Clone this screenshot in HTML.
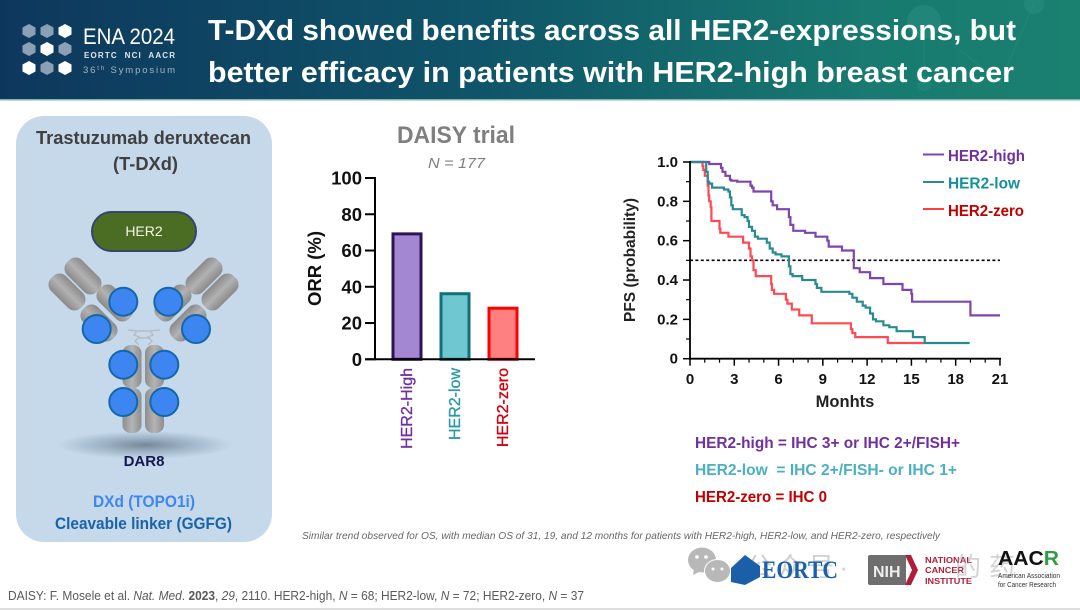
<!DOCTYPE html>
<html lang="en">
<head>
<meta charset="utf-8">
<title>T-DXd efficacy by HER2 expression</title>
<style>
html,body{margin:0;padding:0;background:#fff;width:1080px;height:610px;overflow:hidden}
svg{display:block}
text{font-family:"Liberation Sans","Noto Sans CJK SC",sans-serif}
</style>
</head>
<body>
<svg id="slide" xmlns="http://www.w3.org/2000/svg" width="1080" height="610" viewBox="0 0 1080 610">
<defs>
<linearGradient id="hdr" x1="0" x2="1" y1="0" y2="0"><stop offset="0" stop-color="#0e375d"/><stop offset=".45" stop-color="#0f5569"/><stop offset=".8" stop-color="#187a70"/><stop offset="1" stop-color="#1a8070"/></linearGradient>
<linearGradient id="gr" x1="0" x2="0" y1="0" y2="1"><stop offset="0" stop-color="#8a8a8a"/><stop offset=".5" stop-color="#b2b2b2"/><stop offset="1" stop-color="#8a8a8a"/></linearGradient>
<linearGradient id="grv" x1="0" x2="1" y1="0" y2="0"><stop offset="0" stop-color="#8e8e8e"/><stop offset=".5" stop-color="#b4b4b4"/><stop offset="1" stop-color="#8e8e8e"/></linearGradient>
<radialGradient id="shadow"><stop offset="0" stop-color="#76899b"/><stop offset=".5" stop-color="#9fb4c6"/><stop offset="1" stop-color="#c5d9eb"/></radialGradient>
</defs>

<g>
<rect width="1080" height="99" fill="url(#hdr)"/>
<rect y="99" width="1080" height="1.5" fill="#7fb5b0"/>
<circle cx="924" cy="22" r="17" fill="#2c9384" opacity=".45"/>
<circle cx="1034" cy="4" r="10" fill="#2c9384" opacity=".45"/>
<circle cx="924" cy="84" r="7" fill="#2c9384" opacity=".35"/>
<path d="M924 22V84M1034 4L1000 82L960 50" stroke="#2c9384" stroke-width="1" fill="none" opacity=".4"/>
<g>
<polygon points="29,24 35.500,27.500 35.500,34.500 29,38 22.500,34.500 22.500,27.500" fill="#8ba0b5"/>
<polygon points="47,24 53.500,27.500 53.500,34.500 47,38 40.500,34.500 40.500,27.500" fill="#8ba0b5"/>
<polygon points="65,24 71.500,27.500 71.500,34.500 65,38 58.500,34.500 58.500,27.500" fill="#fff"/>
<polygon points="29,42 35.500,45.500 35.500,52.500 29,56 22.500,52.500 22.500,45.500" fill="#8ba0b5"/>
<polygon points="47,42 53.500,45.500 53.500,52.500 47,56 40.500,52.500 40.500,45.500" fill="#fff"/>
<polygon points="65,42 71.500,45.500 71.500,52.500 65,56 58.500,52.500 58.500,45.500" fill="#8ba0b5"/>
<polygon points="29,61 35.500,64.500 35.500,71.500 29,75 22.500,71.500 22.500,64.500" fill="#fff"/>
<polygon points="47,61 53.500,64.500 53.500,71.500 47,75 40.500,71.500 40.500,64.500" fill="#8ba0b5"/>
<polygon points="65,61 71.500,64.500 71.500,71.500 65,75 58.500,71.500 58.500,64.500" fill="#fff"/>
</g>
<text x="83" y="44" font-size="22" fill="#fff" textLength="92" lengthAdjust="spacingAndGlyphs">ENA 2024</text>
<text x="84" y="58" font-size="8" font-weight="bold" fill="#dfe6ec" textLength="91" xml:space="preserve">EORTC  NCI  AACR</text>
<text x="83" y="73" font-size="9.500" fill="#a5b4c2" textLength="92">36<tspan font-size="6" dy="-3">th</tspan><tspan dy="3"> Symposium</tspan></text>
<text x="208" y="40" font-size="29" font-weight="bold" fill="#fff" textLength="808" lengthAdjust="spacingAndGlyphs">T-DXd showed benefits across all HER2-expressions, but</text>
<text x="208" y="82" font-size="29" font-weight="bold" fill="#fff" textLength="806" lengthAdjust="spacingAndGlyphs">better efficacy in patients with HER2-high breast cancer</text>
</g>

<g>
<rect x="16" y="116" width="256" height="426" rx="28" fill="#c5d9eb"/>
<text x="36" y="144" font-size="18" font-weight="bold" fill="#404040" textLength="215" lengthAdjust="spacingAndGlyphs">Trastuzumab deruxtecan</text>
<text x="113" y="170" font-size="18" font-weight="bold" fill="#404040" textLength="65" lengthAdjust="spacingAndGlyphs">(T-DXd)</text>
<rect x="92" y="212" width="104" height="39" rx="19.500" fill="#4a6d23" stroke="#34466a" stroke-width="2"/>
<text x="144" y="236" font-size="14" fill="#f3f5ea" text-anchor="middle">HER2</text>
<ellipse cx="145" cy="445" rx="88" ry="14" fill="url(#shadow)"/>
<g>
<g fill="url(#gr)">
<rect x="62" y="265.500" width="42" height="21" rx="9" transform="rotate(45 83 276)"/>
<rect x="46" y="281.500" width="42" height="21" rx="9" transform="rotate(45 67 292)"/>
<rect x="94" y="292.500" width="42" height="21" rx="9" transform="rotate(45 115 303)"/>
<rect x="78" y="312.500" width="42" height="21" rx="9" transform="rotate(45 99 323)"/>
<rect x="183" y="265.500" width="42" height="21" rx="9" transform="rotate(-45 204 276)"/>
<rect x="199" y="281.500" width="42" height="21" rx="9" transform="rotate(-45 220 292)"/>
<rect x="152" y="292.500" width="42" height="21" rx="9" transform="rotate(-45 173 303)"/>
<rect x="167" y="312.500" width="42" height="21" rx="9" transform="rotate(-45 188 323)"/>
</g>
<g fill="url(#grv)">
<rect x="122.500" y="345" width="19" height="43" rx="8"/>
<rect x="145" y="345" width="19" height="43" rx="8"/>
<rect x="122.500" y="388" width="19" height="45" rx="8"/>
<rect x="145" y="388" width="19" height="45" rx="8"/>
</g>
<path d="M128 330L137 331L134 335L139 337L135 341L139 345M160 330L150 331L153 335L148 337L152 341L148 345M138 331H150M138 338H150" stroke="#b5b9bc" stroke-width="1.200" fill="none"/>
<g fill="#3d85f0" stroke="#1568a8" stroke-width="2">
<circle cx="123.300" cy="301.700" r="14"/>
<circle cx="96.700" cy="329" r="14"/>
<circle cx="168.300" cy="301.700" r="14"/>
<circle cx="196" cy="329" r="14"/>
<circle cx="123.300" cy="364.700" r="14"/>
<circle cx="164.300" cy="364.700" r="14"/>
<circle cx="123.300" cy="402" r="14"/>
<circle cx="164.300" cy="402" r="14"/>
</g>
</g>
<text x="144" y="466" font-size="15" font-weight="bold" fill="#17174f" text-anchor="middle">DAR8</text>
<text x="93" y="507" font-size="16.500" font-weight="bold" fill="#3f86f0" textLength="102" lengthAdjust="spacingAndGlyphs">DXd (TOPO1i)</text>
<text x="55" y="529" font-size="16.500" font-weight="bold" fill="#1a63a8" textLength="177" lengthAdjust="spacingAndGlyphs">Cleavable linker (GGFG)</text>
</g>

<g id="bar-chart">
<text x="397" y="143" font-size="24" font-weight="bold" fill="#7f7f7f" textLength="118" lengthAdjust="spacingAndGlyphs">DAISY trial</text>
<text x="428" y="168" font-size="15" font-style="italic" fill="#7f7f7f" textLength="57" lengthAdjust="spacingAndGlyphs">N = 177</text>
<text transform="translate(321 268.500) rotate(-90)" font-size="18.500" font-weight="bold" fill="#111" text-anchor="middle">ORR (%)</text>
</g>

<g id="km-chart">
<text transform="translate(635 260) rotate(-90)" font-size="15.500" font-weight="bold" fill="#222" text-anchor="middle">PFS (probability)</text>
<text x="845" y="407" font-size="16.500" font-weight="bold" fill="#222" text-anchor="middle">Monhts</text>
</g>

<g>
<line x1="923" x2="944" y1="154.500" y2="154.500" stroke="#7d45ad" stroke-width="2"/>
<text x="948" y="161" font-size="15.500" font-weight="bold" fill="#7030a0" textLength="77" lengthAdjust="spacingAndGlyphs">HER2-high</text>
<line x1="923" x2="944" y1="182" y2="182" stroke="#2a8a92" stroke-width="2"/>
<text x="948" y="188.500" font-size="15.500" font-weight="bold" fill="#15909a" textLength="72" lengthAdjust="spacingAndGlyphs">HER2-low</text>
<line x1="923" x2="944" y1="209" y2="209" stroke="#ff4040" stroke-width="2"/>
<text x="948" y="216" font-size="15.500" font-weight="bold" fill="#c00000" textLength="76" lengthAdjust="spacingAndGlyphs">HER2-zero</text>
</g>

<g>
<text x="695" y="448" font-size="16" font-weight="bold" fill="#7030a0" textLength="265" lengthAdjust="spacingAndGlyphs">HER2-high = IHC 3+ or IHC 2+/FISH+</text>
<text x="695" y="475" font-size="16" font-weight="bold" fill="#4bb0c0" textLength="262" lengthAdjust="spacingAndGlyphs" xml:space="preserve">HER2-low  = IHC 2+/FISH- or IHC 1+</text>
<text x="695" y="502" font-size="16" font-weight="bold" fill="#c00000" textLength="132" lengthAdjust="spacingAndGlyphs">HER2-zero = IHC 0</text>
</g>

<text x="302" y="539" font-size="10.500" font-style="italic" fill="#666" textLength="638" lengthAdjust="spacingAndGlyphs">Similar trend observed for OS, with median OS of 31, 19, and 12 months for patients with HER2-high, HER2-low, and HER2-zero, respectively</text>
<text x="8" y="600" font-size="13" fill="#595959" textLength="576" lengthAdjust="spacingAndGlyphs">DAISY: F. Mosele et al. <tspan font-style="italic">Nat. Med</tspan>. <tspan font-weight="bold">2023</tspan>, <tspan font-style="italic">29</tspan>, 2110. HER2-high, <tspan font-style="italic">N</tspan> = 68; HER2-low, <tspan font-style="italic">N</tspan> = 72; HER2-zero, <tspan font-style="italic">N</tspan> = 37</text>
<rect y="608" width="1080" height="2" fill="#dedede"/>

<g>
<g>
<ellipse cx="702" cy="560" rx="14" ry="12.500" fill="#b8b8b8"/>
<polygon points="694,569 693,575 701,571" fill="#b8b8b8"/>
<ellipse cx="717.500" cy="571" rx="13" ry="11.500" fill="#b8b8b8" stroke="#fff" stroke-width="1"/>
<circle cx="697" cy="557" r="1.800" fill="#fff"/>
<circle cx="706" cy="557" r="1.800" fill="#fff"/>
<circle cx="713" cy="569" r="1.500" fill="#fff"/>
<circle cx="722" cy="569" r="1.500" fill="#fff"/>
</g>
<text x="746" y="576" font-size="26" fill="#a8a8a8" opacity=".55" textLength="102">公众号·</text>
<polygon points="745,555 760,566 760,577 745,585 731,582 731,568" fill="#1a5fa8"/>
<text x="762" y="578" font-size="25" font-weight="bold" fill="#1a5fa8" style="font-family:'Liberation Serif',serif" textLength="76" lengthAdjust="spacingAndGlyphs">EORTC</text>
<rect x="868" y="555" width="38" height="30" rx="2" fill="#6e6e6e"/>
<text x="873" y="577" font-size="16" font-weight="bold" fill="#eee">NIH</text>
<polygon points="905,555 911,555 918,570 911,585 905,585 912,570" fill="#b01e3c"/>
<text x="925" y="563" font-size="8.500" font-weight="bold" fill="#b01e3c" textLength="47" lengthAdjust="spacingAndGlyphs">NATIONAL</text>
<text x="925" y="573" font-size="8.500" font-weight="bold" fill="#b01e3c" textLength="39" lengthAdjust="spacingAndGlyphs">CANCER</text>
<text x="925" y="584" font-size="8.500" font-weight="bold" fill="#b01e3c" textLength="47" lengthAdjust="spacingAndGlyphs">INSTITUTE</text>
<text x="955" y="576" font-size="26" fill="#a8a8a8" opacity=".5" textLength="60">的药</text>
<text x="998" y="565" font-size="20" font-weight="bold" fill="#111" textLength="61" lengthAdjust="spacingAndGlyphs">AAC<tspan fill="#2f9e44">R</tspan></text>
<text x="998" y="578" font-size="7.500" fill="#333" textLength="62" lengthAdjust="spacingAndGlyphs">American Association</text>
<text x="998" y="587" font-size="7.500" fill="#333" textLength="58" lengthAdjust="spacingAndGlyphs">for Cancer Research</text>
</g>
</svg>

<script>
/* Bar chart data */
var barCategories = ["HER2-High", "HER2-low", "HER2-zero"];
var barValues = [70, 37, 29];
var barTicks = [0, 20, 40, 60, 80, 100];

/* Kaplan-Meier data */
var xTicks = [0, 3, 6, 9, 12, 15, 18, 21];
var xMinorTicks = [1, 2, 4, 5, 7, 8, 10, 11, 13, 14, 16, 17, 19, 20];
var yTicks = [0, 0.2, 0.4, 0.6, 0.8, 1.0];
var yTickLabels = ["0", "0.2", "0.4", "0.6", "0.8", "1.0"];
var yMinorTicks = [0.1, 0.3, 0.5, 0.7, 0.9];
var medianLevel = 0.5;

var highMonths = [0, 1.3, 2.1, 2.2, 2.4, 2.7, 2.8, 3.2, 4.1, 4.2, 4.3, 4.4, 5.5, 5.6, 5.9, 6, 6.7, 6.8, 7, 7.1, 7.8, 8.5, 9.3, 9.4, 9.6, 10.3, 11, 11.1, 11.5, 12.2, 13.1, 14.4, 15, 15.05, 19, 21];
var highSurvival = [1, 0.99, 0.97, 0.95, 0.93, 0.91, 0.905, 0.9, 0.88, 0.87, 0.85, 0.85, 0.8, 0.78, 0.76, 0.76, 0.72, 0.68, 0.65, 0.65, 0.64, 0.62, 0.6, 0.57, 0.57, 0.55, 0.55, 0.46, 0.44, 0.41, 0.38, 0.35, 0.33, 0.29, 0.22, 0.22];

var lowMonths = [0, 1.1, 1.2, 1.3, 1.5, 2.3, 2.6, 2.7, 2.8, 2.9, 3.5, 3.7, 3.9, 4, 4.2, 4.4, 4.6, 5.2, 5.4, 5.6, 5.8, 6.2, 6.7, 6.8, 6.95, 7.2, 7.6, 8.5, 8.6, 8.9, 9, 10.8, 11, 11.3, 11.7, 11.9, 12.2, 12.4, 12.6, 13.1, 13.5, 14, 14.4, 15.1, 15.9, 18.95];
var lowSurvival = [1, 0.95, 0.9, 0.89, 0.87, 0.86, 0.85, 0.82, 0.78, 0.76, 0.73, 0.72, 0.7, 0.67, 0.65, 0.62, 0.61, 0.59, 0.56, 0.54, 0.53, 0.52, 0.47, 0.43, 0.42, 0.42, 0.4, 0.38, 0.36, 0.34, 0.34, 0.33, 0.31, 0.29, 0.27, 0.26, 0.23, 0.2, 0.19, 0.17, 0.16, 0.14, 0.14, 0.11, 0.08, 0.08];

var zeroMonths = [0, 0.85, 0.9, 1, 1.2, 1.25, 1.3, 1.4, 1.45, 2, 2.05, 2.15, 2.6, 3.6, 3.65, 4, 4.1, 4.2, 4.3, 4.45, 5.5, 5.55, 5.7, 6.5, 6.6, 6.9, 7.4, 8.25, 10.9, 11, 11.2, 13.4, 15.9];
var zeroSurvival = [1, 0.98, 0.96, 0.93, 0.88, 0.83, 0.8, 0.77, 0.7, 0.66, 0.64, 0.64, 0.62, 0.59, 0.59, 0.56, 0.52, 0.5, 0.45, 0.42, 0.38, 0.35, 0.33, 0.3, 0.28, 0.25, 0.22, 0.18, 0.15, 0.13, 0.11, 0.08, 0.08];

var NS = "http://www.w3.org/2000/svg";
function make(parent, tag, attrs, txt) {
  var el = document.createElementNS(NS, tag);
  for (var k in attrs) { el.setAttribute(k, attrs[k]); }
  if (txt !== undefined) { el.textContent = txt; }
  parent.appendChild(el);
  return el;
}

/* ---------- Bar chart ---------- */
var barGroup = document.getElementById("bar-chart");
function barY(v) { return 359.3 - v * 1.813; }
function barX(i) { return 407 + i * 48; }
var barFills = ["#a387d2", "#6fc8d0", "#ff8080"];
var barStrokes = ["#2d1457", "#11707c", "#ff0000"];
var barTextColors = ["#7030a0", "#2b9aa8", "#d00010"];

barValues.forEach(function (v, i) {
  var bar = make(barGroup, "rect", { x: barX(i) - 14, y: barY(v) + 1.5, width: 28, height: Math.max(0, barY(0) - barY(v) - 1.5), fill: barFills[i], stroke: barStrokes[i], "stroke-width": 3 });
  
  
  var lab = make(barGroup, "text", { transform: "translate(" + (barX(i) + 5) + " 368) rotate(-90)", "font-size": 16, fill: barTextColors[i], stroke: barTextColors[i], "stroke-width": 0.35, "text-anchor": "end" }, barCategories[i]);
  
  
});
var barYAxis = make(barGroup, "line", { x1: 375, x2: 375, y1: barY(100) - 1, y2: barY(0) + 1, stroke: "#000", "stroke-width": 2 });


var barXAxis = make(barGroup, "line", { x1: 365, x2: 535, y1: barY(0), y2: barY(0), stroke: "#000", "stroke-width": 2 });


barTicks.forEach(function (t) {
  var tick = make(barGroup, "line", { x1: 365, x2: 375, y1: barY(t), y2: barY(t), stroke: "#000", "stroke-width": 2 });
  
  
  var lab = make(barGroup, "text", { x: 362, y: barY(t) + 6.5, "font-size": 18.5, "font-weight": "bold", fill: "#111", "text-anchor": "end" }, String(t));
  
  
});

/* ---------- Kaplan-Meier chart ---------- */
var kmGroup = document.getElementById("km-chart");
function kmX(m) { return 690 + m * 14.76; }
function kmY(s) { return 358.7 - s * 196.7; }

function stepPath(months, survival) {
  var d = "M" + kmX(months[0]).toFixed(1) + " " + kmY(survival[0]).toFixed(1);
  for (var i = 1; i < months.length; i++) {
    d += "H" + kmX(months[i]).toFixed(1) + "V" + kmY(survival[i]).toFixed(1);
  }
  return d;
}

var medianLine = make(kmGroup, "line", { x1: kmX(0), x2: kmX(21), y1: kmY(medianLevel), y2: kmY(medianLevel), stroke: "#000", "stroke-width": 1.6, "stroke-dasharray": "3 2.4" });



var curveHigh = make(kmGroup, "path", { d: stepPath(highMonths, highSurvival), fill: "none", stroke: "#7d45ad", "stroke-width": 2.2 });


var curveZero = make(kmGroup, "path", { d: stepPath(zeroMonths, zeroSurvival), fill: "none", stroke: "#ff4a55", "stroke-width": 2.2 });


var curveLow = make(kmGroup, "path", { d: stepPath(lowMonths, lowSurvival), fill: "none", stroke: "#2a8a92", "stroke-width": 2.2 });



var kmYAxis = make(kmGroup, "line", { x1: kmX(0), x2: kmX(0), y1: kmY(1) - 1, y2: kmY(0) + 1, stroke: "#000", "stroke-width": 1.8 });


var kmXAxis = make(kmGroup, "line", { x1: kmX(0) - 1, x2: kmX(21) + 1, y1: kmY(0), y2: kmY(0), stroke: "#000", "stroke-width": 1.8 });



xTicks.forEach(function (t) {
  var tick = make(kmGroup, "line", { x1: kmX(t), x2: kmX(t), y1: kmY(0), y2: kmY(0) + 7, stroke: "#000", "stroke-width": 1.5 });
  
  
  var lab = make(kmGroup, "text", { x: kmX(t), y: 384, "font-size": 15, "font-weight": "bold", fill: "#111", "text-anchor": "middle" }, String(t));
  
  
});
xMinorTicks.forEach(function (t) {
  var tick = make(kmGroup, "line", { x1: kmX(t), x2: kmX(t), y1: kmY(0), y2: kmY(0) + 4, stroke: "#000", "stroke-width": 1.2 });
  
  
});
yTicks.forEach(function (t, i) {
  var tick = make(kmGroup, "line", { x1: kmX(0) - 7, x2: kmX(0), y1: kmY(t), y2: kmY(t), stroke: "#000", "stroke-width": 1.5 });
  
  
  var lab = make(kmGroup, "text", { x: 678, y: kmY(t) + 5, "font-size": 15, "font-weight": "bold", fill: "#111", "text-anchor": "end" }, yTickLabels[i]);
  
  
});
yMinorTicks.forEach(function (t) {
  var tick = make(kmGroup, "line", { x1: kmX(0) - 4, x2: kmX(0), y1: kmY(t), y2: kmY(t), stroke: "#000", "stroke-width": 1.2 });
  
  
});
</script>
</body>
</html>
